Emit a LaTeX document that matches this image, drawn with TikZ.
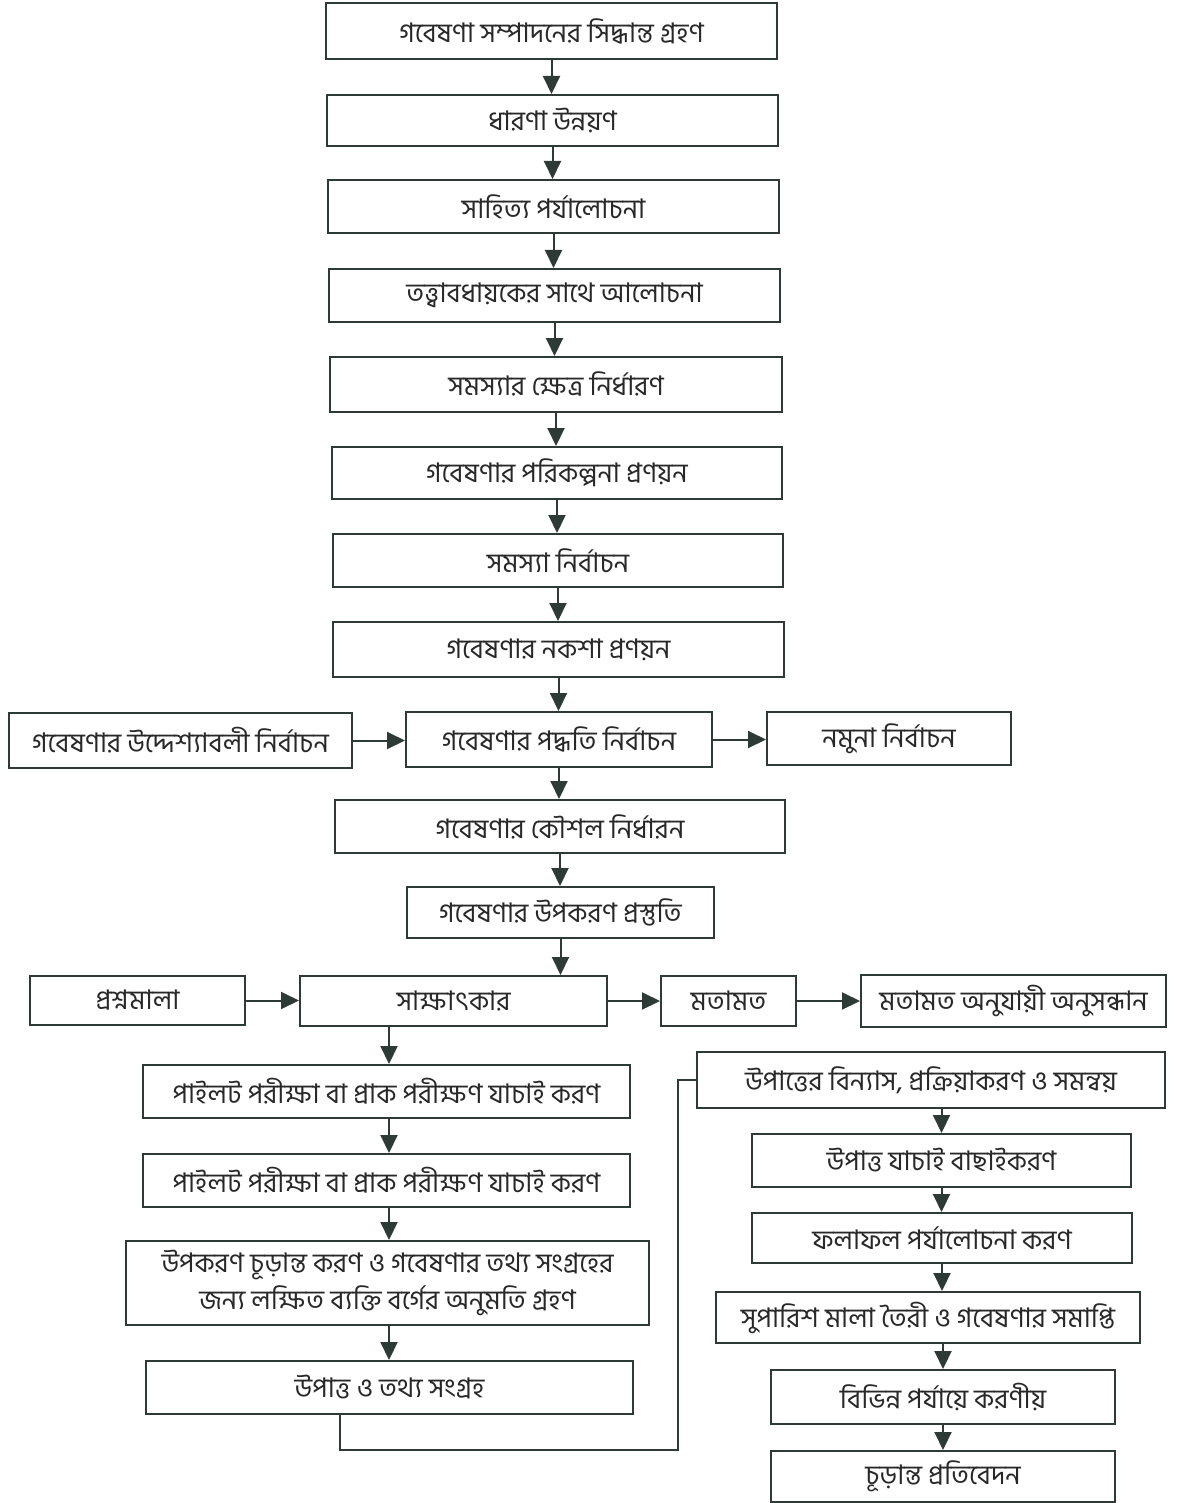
\documentclass[tikz,border=0pt]{standalone}
\usepackage{fontspec}
\newfontfamily\bn[Script=Bengali]{Hind Siliguri}
\usetikzlibrary{arrows.meta}
\definecolor{ln}{RGB}{45,58,54}
\definecolor{tx}{RGB}{40,40,40}
\tikzset{
  box/.style={draw=ln, line width=1pt, fill=white, text=tx, font=\bn\fontsize{13.5}{18.5}\selectfont, align=center, inner sep=0pt},
  bx/.style 2 args={minimum width=#1*0.5pt, minimum height=#2*0.5pt},
  arr/.style={draw=ln, line width=1pt, -{Triangle[width=8.5pt,length=9pt]}},
  ln/.style={draw=ln, line width=1pt}
}
\begin{document}
\begin{tikzpicture}[x=0.5pt,y=-0.5pt]
\useasboundingbox (0,0) rectangle (1186,1503);
% main chain
\node[box,bx={451}{56}] (n1) at (551.5,31) {গবেষণা সম্পাদনের সিদ্ধান্ত গ্রহণ};
\node[box,bx={451}{51}] (n2) at (552.5,120.5) {ধারণা উন্নয়ণ};
\node[box,bx={451}{53}] (n3) at (553.5,206.5) {সাহিত্য পর্যালোচনা};
\node[box,bx={451}{53}] (n4) at (554.5,295.5) {তত্ত্বাবধায়কের সাথে আলোচনা};
\node[box,bx={452}{55}] (n5) at (556,384.5) {সমস্যার ক্ষেত্র নির্ধারণ};
\node[box,bx={450}{52}] (n6) at (557,473) {গবেষণার পরিকল্পনা প্রণয়ন};
\node[box,bx={450}{53}] (n7) at (558,560.5) {সমস্যা নির্বাচন};
\node[box,bx={451}{55}] (n8) at (558.5,649.5) {গবেষণার নকশা প্রণয়ন};
\node[box,bx={343}{55}] (n9L) at (180.5,740.5) {গবেষণার উদ্দেশ্যাবলী নির্বাচন};
\node[box,bx={306}{55}] (n9) at (559,739.5) {গবেষণার পদ্ধতি নির্বাচন};
\node[box,bx={244}{53}] (n9R) at (889,738.5) {নমুনা নির্বাচন};
\node[box,bx={450}{53}] (n10) at (560,826.5) {গবেষণার কৌশল নির্ধারন};
\node[box,bx={307}{51}] (n11) at (560.5,912.5) {গবেষণার উপকরণ প্রস্তুতি};
\node[box,bx={215}{49}] (n12L) at (137.5,1000.5) {প্রশ্নমালা};
\node[box,bx={307}{50}] (n12) at (453.5,1001) {সাক্ষাৎকার};
\node[box,bx={135}{50}] (n12M) at (728.5,1001) {মতামত};
\node[box,bx={305}{52}] (n12R) at (1013.5,1001) {মতামত অনুযায়ী অনুসন্ধান};
% left column
\node[box,bx={487}{53}] (n13) at (386.5,1091.5) {পাইলট পরীক্ষা বা প্রাক পরীক্ষণ যাচাই করণ};
\node[box,bx={487}{53}] (n14) at (386.5,1180.5) {পাইলট পরীক্ষা বা প্রাক পরীক্ষণ যাচাই করণ};
\node[box,bx={523}{84}] (n15) at (387.5,1283) {উপকরণ চূড়ান্ত করণ ও গবেষণার তথ্য সংগ্রহের\\জন্য লক্ষিত ব্যক্তি বর্গের অনুমতি গ্রহণ};
\node[box,bx={487}{53}] (n16) at (389.5,1387.5) {উপাত্ত ও তথ্য সংগ্রহ};
% right column
\node[box,bx={468}{56}] (r1) at (931,1080) {উপাত্তের বিন্যাস, প্রক্রিয়াকরণ ও সমন্বয়};
\node[box,bx={379}{53}] (r2) at (941.5,1160.5) {উপাত্ত যাচাই বাছাইকরণ};
\node[box,bx={380}{50}] (r3) at (942,1238) {ফলাফল পর্যালোচনা করণ};
\node[box,bx={424}{51}] (r4) at (928,1317.5) {সুপারিশ মালা তৈরী ও গবেষণার সমাপ্তি};
\node[box,bx={344}{54}] (r5) at (943,1397) {বিভিন্ন পর্যায়ে করণীয়};
\node[box,bx={344}{51}] (r6) at (943,1476.5) {চূড়ান্ত প্রতিবেদন};
% vertical arrows main chain
\draw[arr] (n1.south) -- (n1.south |- n2.north);
\draw[arr] (n2.south) -- (n2.south |- n3.north);
\draw[arr] (n3.south) -- (n3.south |- n4.north);
\draw[arr] (n4.south) -- (n4.south |- n5.north);
\draw[arr] (n5.south) -- (n5.south |- n6.north);
\draw[arr] (n6.south) -- (n6.south |- n7.north);
\draw[arr] (n7.south) -- (n7.south |- n8.north);
\draw[arr] (n8.south) -- (n8.south |- n9.north);
\draw[arr] (n9.south) -- (n9.south |- n10.north);
\draw[arr] (n10.south) -- (n10.south |- n11.north);
\draw[arr] (n11.south) -- (n11.south |- n12.north);
% horizontal arrows
\draw[arr] (n9L.east) -- (n9.west |- n9L.east);
\draw[arr] (n9.east) -- (n9R.west |- n9.east);
\draw[arr] (n12L.east) -- (n12.west |- n12L.east);
\draw[arr] (n12.east) -- (n12M.west);
\draw[arr] (n12M.east) -- (n12R.west);
% left column arrows
\draw[arr] ([xshift=1.25pt]n13.north |- n12.south) -- ([xshift=1.25pt]n13.north);
\draw[arr] ([xshift=1.25pt]n13.south) -- ([xshift=1.25pt]n14.north);
\draw[arr] ([xshift=1.25pt]n14.south) -- ([xshift=1.25pt]n14.south |- n15.north);
\draw[arr] ([xshift=0.75pt]n15.south) -- ([xshift=0.75pt]n15.south |- n16.north);
% right column arrows
\draw[arr] (r2.north |- r1.south) -- (r2.north);
\draw[arr] (r2.south) -- (r2.south |- r3.north);
\draw[arr] (r3.south) -- (r3.south |- r4.north);
\draw[arr] (r5.north |- r4.south) -- (r5.north);
\draw[arr] (r5.south) -- (r6.north);
% feedback connector
\coordinate (c1) at (340,1450);
\coordinate (c2) at (678,1450);
\draw[ln] (n16.south -| c1) -- (c1) -- (c2) -- (c2 |- r1.west) -- (r1.west);
\end{tikzpicture}
\end{document}
